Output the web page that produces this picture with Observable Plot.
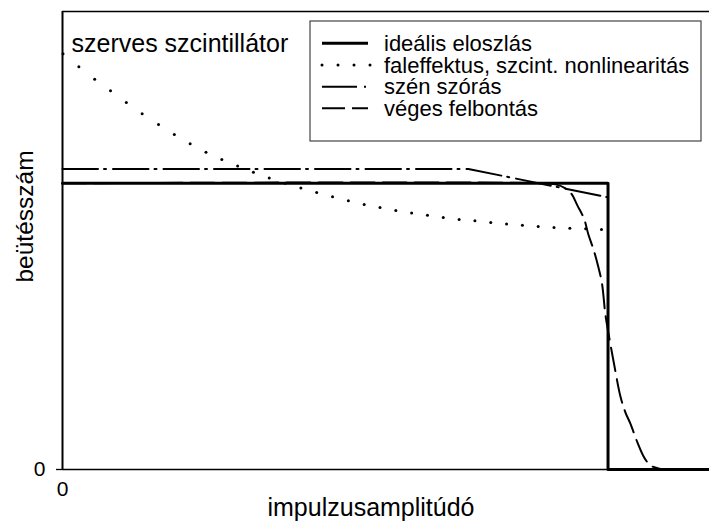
<!DOCTYPE html>
<html>
<head>
<meta charset="utf-8">
<script src="https://cdn.jsdelivr.net/npm/d3@7"></script>
<script src="https://cdn.jsdelivr.net/npm/@observablehq/plot@0.6"></script>
<style>
  html, body { margin: 0; padding: 0; background: #fff; overflow: hidden; }
  svg { display: block; }
</style>
</head>
<body>
<div id="chart"></div>
<script>
// ---- data ----
const xTicks = [0];
const yTicks = [0];
const xLabel = "impulzusamplitúdó";
const yLabel = "beütésszám";
const panelTitle = "szerves szcintillátor";
const seriesNames = ["ideális eloszlás", "faleffektus, szcint. nonlinearitás", "szén szórás", "véges felbontás"];

// ideális eloszlás
const idealX = [0, 100, 100, 118.6];
const idealY = [100, 100, 0, 0];

// faleffektus, szcint. nonlinearitás (dotted)
const faleX = [0.1, 3.0, 5.9, 8.8, 11.7, 14.6, 17.6, 20.5, 23.4, 26.3, 29.2, 32.1, 35.0, 37.9, 40.8, 43.7, 46.6, 49.5,
               52.4, 55.3, 58.2, 61.1, 64.0, 66.9, 69.8, 72.7, 75.6, 78.5, 81.4, 84.3, 87.2, 90.1, 93.0, 95.9, 98.8];
const faleY = [145.2, 140.7, 136.3, 132.3, 128.2, 124.3, 120.5, 117.0, 113.8, 110.8, 108.3, 106.0, 103.8, 101.8, 100.0, 98.3, 96.8, 95.3,
               93.9, 92.6, 91.5, 90.5, 89.6, 88.8, 88.0, 87.3, 86.9, 86.3, 85.8, 85.3, 84.9, 84.5, 84.3, 84.1, 83.8];

// szén szórás (dash-dot)
const szenX = [0, 74.4, 100];
const szenY = [105, 105, 95.1];

// véges felbontás (dashed)
const vegesX = [0, 87.6, 90.4, 92.2, 93.3, 94.4, 95.6, 96.4, 97.4, 98.2, 98.9, 99.5, 100.1, 101.1, 102.3, 103.2, 104.1, 105.4, 106.6, 107.8, 109.6, 111.4, 118.6];
const vegesY = [100, 100, 99.6, 98.2, 96.3, 92.2, 87.6, 82.1, 76.5, 70.9, 64.9, 54.4, 47.4, 36.9, 25.3, 19.9, 16.0, 9.4, 4.3, 1.4, 0.2, 0, 0];

// ---- tables ----
const ideal = idealX.map((x, i) => ({x, y: idealY[i]}));
const fale = faleX.map((x, i) => ({x, y: faleY[i]}));
const szen = szenX.map((x, i) => ({x, y: szenY[i]}));
const veges = vegesX.map((x, i) => ({x, y: vegesY[i]}));

const font = "'Liberation Sans', Arial, Helvetica, sans-serif";

const svg = Plot.plot({
  width: 709,
  height: 531,
  marginLeft: 62,
  marginRight: 0,
  marginTop: 11,
  marginBottom: 62,
  style: {fontFamily: font, fontSize: "21px", background: "#fff", color: "#000"},
  x: {domain: [0, 118.6], axis: null},
  y: {domain: [0, 160], axis: null},
  marks: [
    Plot.ruleY([160], {stroke: "#000", strokeWidth: 1.7}),
    Plot.ruleY([0], {stroke: "#000", strokeWidth: 1.5}),
    Plot.ruleX([0], {stroke: "#000", strokeWidth: 2}),
    Plot.axisY({ticks: yTicks, tickSize: 6, tickPadding: 11, label: null, stroke: "#000", strokeWidth: 1.3}),
    Plot.axisX({ticks: xTicks, tickSize: 0, tickPadding: 12, label: null}),
    Plot.line(veges, {x: "x", y: "y", stroke: "#000", strokeWidth: 2, strokeDasharray: "24 8", curve: "catmull-rom"}),
    Plot.line(szen, {x: "x", y: "y", stroke: "#000", strokeWidth: 2, strokeDasharray: "35.5 6 2 7"}),
    Plot.line(ideal, {x: "x", y: "y", stroke: "#000", strokeWidth: 3}),
    Plot.dot(fale, {x: "x", y: "y", r: 1.5, fill: "#000", stroke: null}),
    Plot.text([panelTitle], {frameAnchor: "top-left", textAnchor: "start", dx: 9, dy: 22.5, fontSize: 25, fill: "#000"}),
    Plot.text([xLabel], {frameAnchor: "bottom", textAnchor: "middle", dx: -15, dy: 46, fontSize: 25, fill: "#000"}),
    Plot.text([yLabel], {frameAnchor: "left", textAnchor: "middle", rotate: -90, dx: -37, dy: -24, fontSize: 24.5, fill: "#000"})
  ]
});

// ---- legend (inside the plot area) ----
const g = d3.select(svg).append("g")
  .attr("font-family", font).attr("font-size", 22).attr("text-anchor", "start");
g.append("rect").attr("x", 310).attr("y", 21).attr("width", 391).attr("height", 120)
  .attr("fill", "#fff").attr("stroke", "#444").attr("stroke-width", 1.2);
const rowY = [43.3, 65, 86.7, 108.3];
const sx0 = 322, sx1 = 368;
// solid
g.append("line").attr("x1", sx0).attr("x2", sx1).attr("y1", rowY[0]).attr("y2", rowY[0]).attr("stroke", "#000").attr("stroke-width", 3);
// dotted
[0, 16, 32, 48].forEach(d => g.append("circle").attr("cx", sx0 + d).attr("cy", rowY[1]).attr("r", 1.5).attr("fill", "#000"));
// dash-dot
g.append("line").attr("x1", sx0).attr("x2", sx1).attr("y1", rowY[2]).attr("y2", rowY[2]).attr("stroke", "#000").attr("stroke-width", 2).attr("stroke-dasharray", "35 7 2 20");
// dashed
g.append("line").attr("x1", sx0).attr("x2", sx1).attr("y1", rowY[3]).attr("y2", rowY[3]).attr("stroke", "#000").attr("stroke-width", 2).attr("stroke-dasharray", "23 7 16");
seriesNames.forEach((name, i) => {
  g.append("text").attr("x", 384).attr("y", rowY[i]).attr("dy", "0.35em").attr("fill", "#000").text(name);
});

document.getElementById("chart").appendChild(svg);
</script>
</body>
</html>
